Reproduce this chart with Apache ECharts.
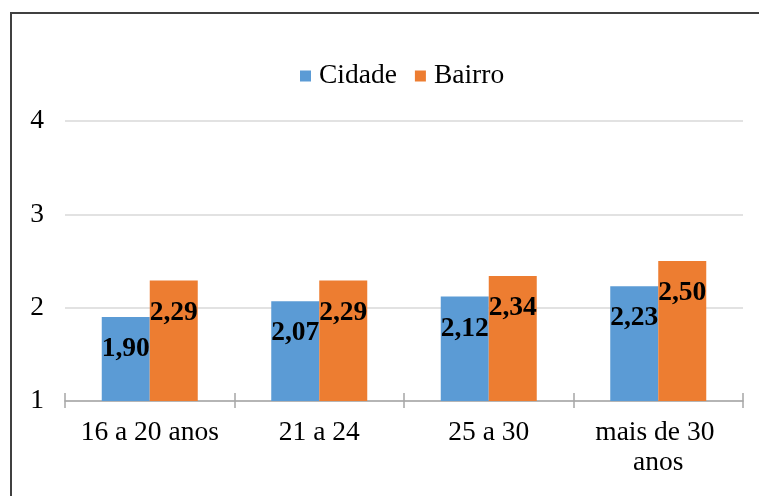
<!DOCTYPE html>
<html>
<head>
<meta charset="utf-8">
<script src="https://cdn.jsdelivr.net/npm/echarts@6/dist/echarts.min.js"></script>
<style>
  html, body { margin: 0; padding: 0; background: #fff; }
  #chart { width: 759px; height: 496px; }
</style>
</head>
<body>
<div id="chart"></div>
<script>
// Age groups and mean scores per group
var categories = ['16 a 20 anos', '21 a 24', '25 a 30', 'mais de 30 anos'];
var cidade = [1.90, 2.07, 2.12, 2.23];
var bairro = [2.29, 2.29, 2.34, 2.50];
var yTicks = [1, 2, 3, 4];

var FONT = '"Liberation Serif", "Times New Roman", serif';
var FS = 27.5;

var chart = echarts.init(document.getElementById('chart'), null, { renderer: 'canvas' });

function valueLabel(p) {
  return p.value.toFixed(2).replace('.', ',');
}

var labelStyle = {
  show: true,
  position: 'insideTop',
  distance: 18,
  formatter: valueLabel,
  fontFamily: FONT,
  fontSize: FS,
  fontWeight: 'bold',
  color: '#000'
};

chart.setOption({
  animation: false,
  backgroundColor: '#fff',
  graphic: [{
    type: 'polyline',
    shape: { points: [[11, 500], [11, 13], [760, 13]] },
    style: { stroke: '#404040', lineWidth: 2, fill: null }
  }],
  legend: {
    top: 57,
    left: 295,
    itemWidth: 11,
    itemHeight: 11,
    itemGap: 18,
    icon: 'rect',
    textStyle: { fontFamily: FONT, fontSize: FS, color: '#000', padding: [0, 0, 0, 3] },
    data: ['Cidade', 'Bairro']
  },
  grid: { left: 65, right: 16, top: 121, bottom: 95 },
  xAxis: [{
    type: 'category',
    data: categories,
    position: 'bottom',
    axisLine: { lineStyle: { color: '#a6a6a6', width: 1.5 } },
    axisTick: { show: true, length: 7, lineStyle: { color: '#a6a6a6', width: 1.5 } },
    axisLabel: {
      interval: 0,
      fontFamily: FONT, fontSize: FS, color: '#000', margin: 17,
      width: 150, overflow: 'break', lineHeight: 30
    }
  }, {
    type: 'category',
    data: categories,
    position: 'bottom',
    offset: 0,
    axisLine: { show: false },
    axisTick: { show: true, inside: true, length: 8, lineStyle: { color: '#a6a6a6', width: 1.5 } },
    axisLabel: { show: false }
  }],
  yAxis: {
    type: 'value',
    min: yTicks[0],
    max: yTicks[yTicks.length - 1],
    interval: 1,
    axisLine: { show: false },
    axisTick: { show: false },
    axisLabel: { fontFamily: FONT, fontSize: FS, color: '#000', margin: 21 },
    splitLine: { lineStyle: { color: '#d9d9d9', width: 1.5 } }
  },
  series: [{
    name: 'Cidade',
    type: 'bar',
    data: cidade,
    barWidth: 48,
    barGap: '0%',
    itemStyle: { color: '#5b9bd5' },
    label: labelStyle
  }, {
    name: 'Bairro',
    type: 'bar',
    data: bairro,
    barWidth: 48,
    barGap: '0%',
    itemStyle: { color: '#ed7d31' },
    label: labelStyle
  }]
});
</script>
</body>
</html>
